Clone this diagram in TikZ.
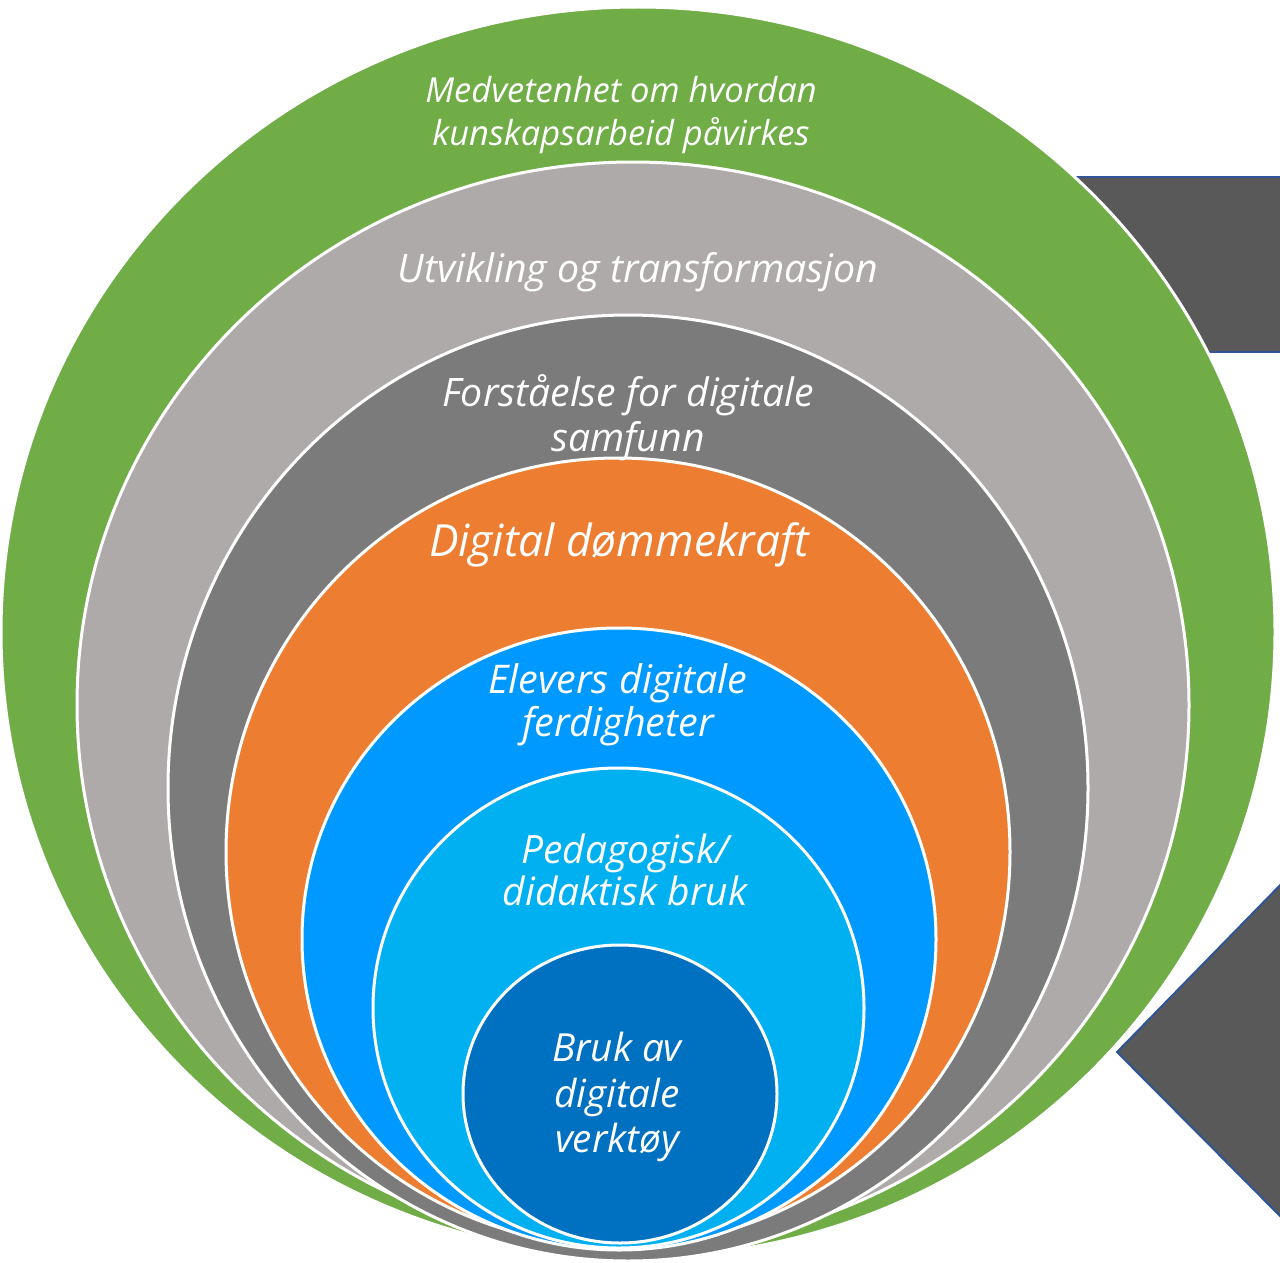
\documentclass[tikz,border=0pt]{standalone}
\usepackage{fontspec}
\setmainfont{Open Sans}
\usetikzlibrary{shapes.geometric}
\definecolor{cgreen}{HTML}{70AD47}
\definecolor{clgray}{HTML}{AEAAAA}
\definecolor{cdgray}{HTML}{7B7B7B}
\definecolor{corange}{HTML}{ED7D31}
\definecolor{cblue}{HTML}{0099FF}
\definecolor{clblue}{HTML}{00B0F0}
\definecolor{cdblue}{HTML}{0070C0}
\definecolor{cshape}{HTML}{595959}
\definecolor{cshapeline}{HTML}{2F5597}
\tikzset{
  ring/.style={ellipse, draw=white, line width=3pt, inner sep=0pt},
  lbl/.style={text=white, align=center, font=\itshape, inner sep=0pt},
  sidebox/.style={fill=cshape, draw=cshapeline, line width=2pt}
}
\begin{document}
\begin{tikzpicture}[x=1pt,y=-1pt]
\useasboundingbox (0,0) rectangle (1280,1263);
\begin{scope}
\clip (0,0) rectangle (1280,1263);
\draw[sidebox] (900,177) -- (1400,177) -- (1400,352) -- (900,352) -- cycle;
\draw[sidebox] (1117,1052) -- (1290,875) -- (1400,875) -- (1400,1230) -- (1290,1226) -- cycle;
\end{scope}
\node[ring, fill=cgreen, minimum width=1274pt, minimum height=1250pt] (green) at (638,632) {};
\node[ring, fill=clgray, minimum width=1112pt, minimum height=1086pt] (lgray) at (633,705) {};
\node[ring, fill=cdgray, minimum width=920pt, minimum height=946pt] (dgray) at (628,788) {};
\node[ring, fill=corange, minimum width=784pt, minimum height=788pt] (orange) at (618,852) {};
\node[ring, fill=cblue, minimum width=634pt, minimum height=622pt] (blue) at (619,939) {};
\node[ring, fill=clblue, minimum width=491pt, minimum height=480pt] (lblue) at (618.5,1008) {};
\node[ring, fill=cdblue, minimum width=314pt, minimum height=298pt] (dblue) at (620,1094) {};
\node[lbl, font=\itshape\fontsize{34.5}{43}\selectfont] (t1) at (621,115) {Medvetenhet om hvordan\\kunskapsarbeid påvirkes};
\node[lbl, font=\itshape\fontsize{39.3}{46}\selectfont] (t2) at (638,272) {Utvikling og transformasjon};
\node[lbl, font=\itshape\fontsize{39.2}{45}\selectfont] (t3) at (628,418) {Forståelse for digitale\\samfunn};
\node[lbl, font=\itshape\fontsize{44.3}{50}\selectfont] (t4) at (619,545) {Digital dømmekraft};
\node[lbl, font=\itshape\fontsize{39.5}{43}\selectfont] (t5) at (618,704.5) {Elevers digitale\\ferdigheter};
\node[lbl, font=\itshape\fontsize{39}{42}\selectfont] (t6) at (625,870) {Pedagogisk/\\didaktisk bruk};
\node[lbl, font=\itshape\fontsize{38.7}{45.5}\selectfont] (t7) at (617,1097) {Bruk av\\digitale\\verktøy};
\end{tikzpicture}
\end{document}
